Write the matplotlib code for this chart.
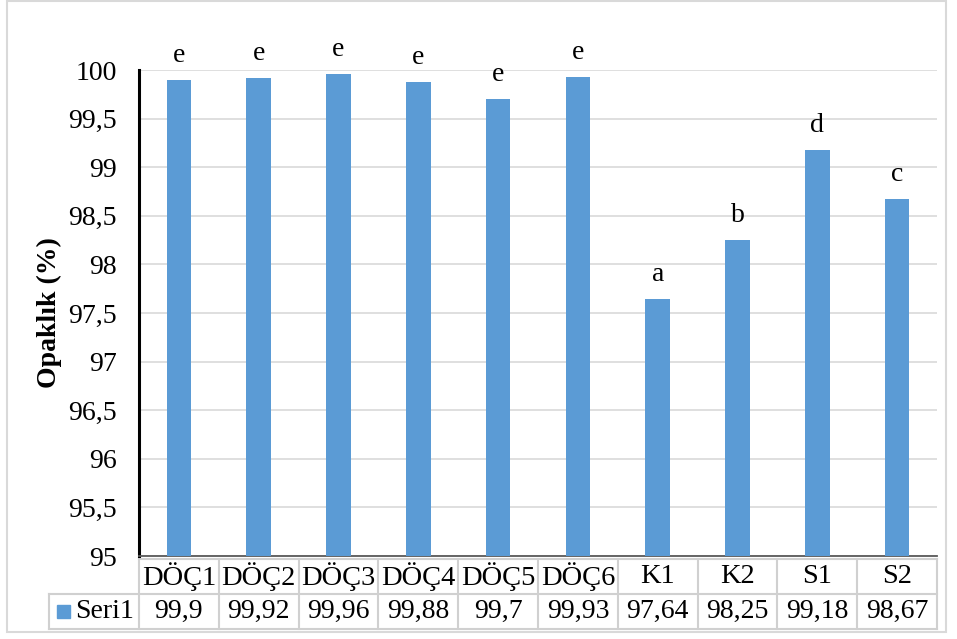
import matplotlib.pyplot as plt
from matplotlib.patches import Rectangle
import matplotlib.transforms as mtransforms

categories = ["DÖÇ1", "DÖÇ2", "DÖÇ3", "DÖÇ4", "DÖÇ5", "DÖÇ6", "K1", "K2", "S1", "S2"]
values = [99.9, 99.92, 99.96, 99.88, 99.7, 99.93, 97.64, 98.25, 99.18, 98.67]
value_labels = ["99,9", "99,92", "99,96", "99,88", "99,7", "99,93", "97,64", "98,25", "99,18", "98,67"]
letters = ["e", "e", "e", "e", "e", "e", "a", "b", "d", "c"]
series_name = "Seri1"
yticks = [95, 95.5, 96, 96.5, 97, 97.5, 98, 98.5, 99, 99.5, 100]

plt.rcParams['font.family'] = ['Liberation Serif', 'DejaVu Serif']
bar_color = "#5B9BD5"
grid_color = "#d9d9d9"
fs = 20

W, H = 957, 639
fig = plt.figure(figsize=(W / 100, H / 100), dpi=100)
ax = fig.add_axes([139 / W, 1 - 556 / H, (937 - 139) / W, (556 - 70) / H])

x = list(range(len(categories)))
ax.bar(x, values, width=0.31, color=bar_color, zorder=3)
ax.set_xlim(-0.5, len(categories) - 0.5)
ax.set_ylim(95, 100)
ax.set_yticks(yticks)
ax.set_yticklabels([f"{t:g}".replace(".", ",") for t in yticks], fontsize=fs)
ax.tick_params(axis="y", length=0, pad=16)
ax.set_xticks([])
ax.yaxis.grid(True, color=grid_color, linewidth=1.2, zorder=0)
for s in ["top", "right"]:
    ax.spines[s].set_visible(False)
ax.spines["left"].set_linewidth(2.2)
ax.spines["left"].set_color("black")
ax.spines["bottom"].set_color("#595959")
ax.spines["bottom"].set_linewidth(1.3)

ax.set_ylabel("Opaklık (%)", fontsize=20, fontweight="bold")
ax.yaxis.set_label_coords((62 - 139) / (937 - 139), 0.5)

for xi, v, l in zip(x, values, letters):
    ax.annotate(l, (xi, v), xytext=(0, 13), textcoords="offset points",
                ha="center", va="baseline", fontsize=fs)

# data table below the plot
tr = mtransforms.blended_transform_factory(ax.transData, ax.transAxes)
ph = 486.0
y0, y1, y2 = -3 / ph, -38 / ph, -73 / ph
xl = -0.5 - 90 / 79.8
tc = "#d0d0d0"
lw = 1.5
n = len(categories)
ax.plot([-0.5, n - 0.5], [y0, y0], transform=tr, color=tc, lw=lw, clip_on=False)
ax.plot([xl, n - 0.5], [y1, y1], transform=tr, color=tc, lw=lw, clip_on=False)
ax.plot([xl, n - 0.5], [y2, y2], transform=tr, color=tc, lw=lw, clip_on=False)
ax.plot([xl, xl], [y1, y2], transform=tr, color=tc, lw=lw, clip_on=False)
for k in range(n + 1):
    ax.plot([k - 0.5, k - 0.5], [y0, y2], transform=tr, color=tc, lw=lw, clip_on=False)
for xi, c, vl in zip(x, categories, value_labels):
    ax.text(xi, (y0 + y1) / 2, c, transform=tr, ha="center", va="center", fontsize=20.5)
    ax.text(xi, (y1 + y2) / 2, vl, transform=tr, ha="center", va="center", fontsize=fs)
ax.add_patch(Rectangle((xl + 8 / 79.8, (y1 + y2) / 2 - 6.5 / ph), 13 / 79.8, 13 / ph,
                       transform=tr, color=bar_color, clip_on=False))
ax.text(xl + 26 / 79.8, (y1 + y2) / 2, series_name, transform=tr, ha="left", va="center", fontsize=fs)

# outer chart border
fig.patches.append(Rectangle((7 / W, 1 - 632 / H), (946 - 7) / W, (632 - 1) / H,
                             transform=fig.transFigure, fill=False,
                             edgecolor=grid_color, linewidth=1.5))

fig.savefig("out.png", dpi=100)
